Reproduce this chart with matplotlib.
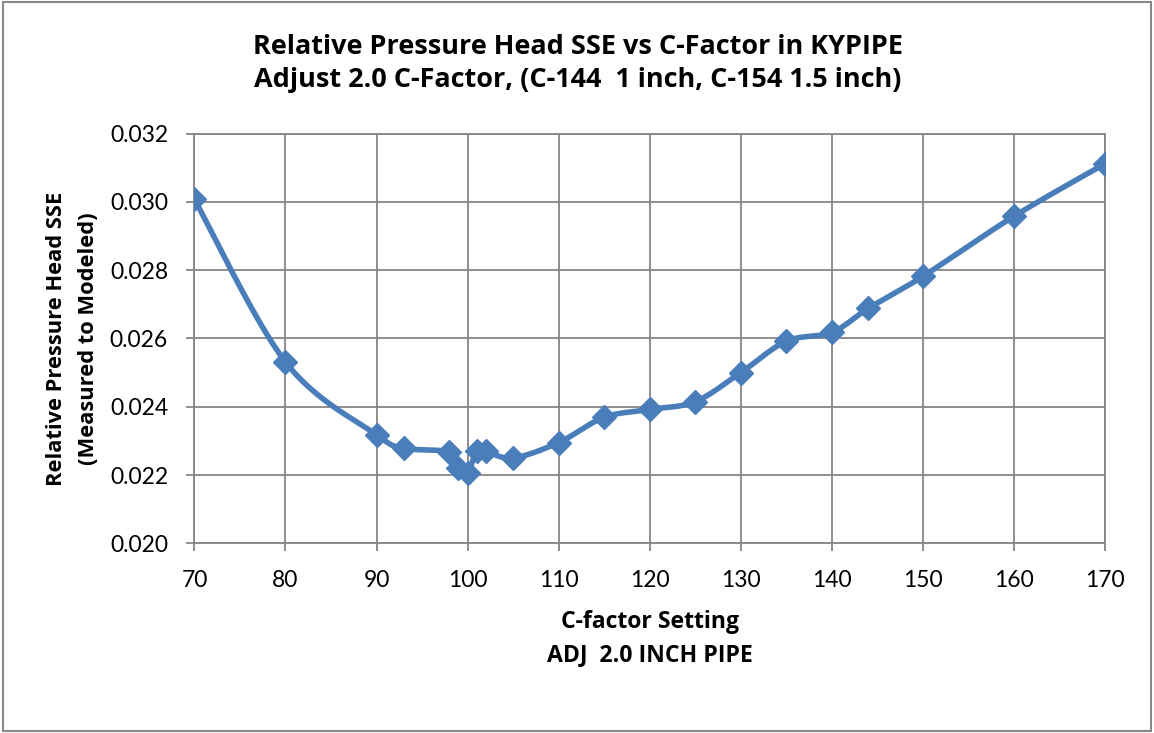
import matplotlib.pyplot as plt
import numpy as np
from matplotlib.patches import Rectangle

# data
c_factor = [70, 80, 90, 93, 98, 99, 100, 101, 102, 105, 110, 115, 120, 125,
            130, 135, 140, 144, 150, 160, 170]
sse = [0.03008, 0.02531, 0.02318, 0.02279, 0.02267, 0.02220, 0.02206,
       0.02269, 0.02269, 0.02250, 0.02295, 0.02369, 0.02392, 0.02415,
       0.02500, 0.02592, 0.02618, 0.02688, 0.02782, 0.02958, 0.03112]
x_ticks = list(range(70, 171, 10))
y_ticks = [0.020, 0.022, 0.024, 0.026, 0.028, 0.030, 0.032]

plt.rcParams['font.family'] = ['Lato', 'DejaVu Sans']
bold_font = ['Open Sans', 'DejaVu Sans']
blue = '#4A7EBB'
grid_c = '#868686'


def smooth(xs, ys, n=30):
    # Excel-like smoothed line: cubic bezier through the points
    p = np.column_stack([xs, ys]).astype(float)
    p = np.vstack([p[0], p, p[-1]])
    out = []
    for i in range(1, len(p) - 2):
        p0, p1, p2, p3 = p[i - 1], p[i], p[i + 1], p[i + 2]
        c1 = p1 + (p2 - p0) / 6
        c2 = p2 - (p3 - p1) / 6
        t = np.linspace(0, 1, n)[:, None]
        seg = ((1 - t) ** 3) * p1 + 3 * ((1 - t) ** 2) * t * c1 \
            + 3 * (1 - t) * t ** 2 * c2 + t ** 3 * p2
        out.append(seg if i == 1 else seg[1:])
    out = np.vstack(out)
    return out[:, 0], out[:, 1]


def fit_text(txt, target, step_px, vertical=False):
    # scale a text so its longest line spans `target` px, lines `step_px` apart
    r = fig.canvas.get_renderer()
    for _ in range(3):
        bb = txt.get_window_extent(r)
        size = bb.height if vertical else bb.width
        txt.set_fontsize(txt.get_fontsize() * target / size)
    probe = fig.text(0, 0, 'lp', fontsize=txt.get_fontsize(),
                     family=txt.get_fontfamily(), fontweight='bold')
    h = probe.get_window_extent(r).height
    probe.remove()
    txt.set_linespacing(step_px / h)


fig = plt.figure(figsize=(11.54, 7.33), dpi=100)
ax = fig.add_axes([0.1685, 0.2588, 0.789, 0.5588])

sx, sy = smooth(c_factor, sse)
ax.plot(sx, sy, color=blue, linewidth=4, solid_capstyle='round', zorder=3)
ax.plot(c_factor, sse, linestyle='none', marker='D', markersize=12,
        color=blue, zorder=4)

ax.set_xlim(70, 170)
ax.set_ylim(0.020, 0.032)
ax.set_xticks(x_ticks)
ax.set_yticks(y_ticks)
ax.set_yticklabels(['%.3f' % v for v in y_ticks])
ax.grid(True, color=grid_c, linewidth=1.3)
ax.set_axisbelow(True)
for s in ax.spines.values():
    s.set_color(grid_c)
    s.set_linewidth(1.3)
ax.tick_params(axis='both', colors=grid_c, labelcolor='black', labelsize=16.5,
               length=6, width=1.3)
ax.tick_params(axis='x', pad=13)
ax.tick_params(axis='y', pad=13)

xl = ax.set_xlabel('C-factor Setting\nADJ  2.0 INCH PIPE', fontsize=16,
                   family=bold_font, fontweight='bold', va='center')
ax.xaxis.set_label_coords(0.5, -0.2324)
yl = ax.set_ylabel('Relative Pressure Head SSE\n(Measured to Modeled)', fontsize=12,
                   family=bold_font, fontweight='bold', va='center')
ax.yaxis.set_label_coords(-0.134, 0.5)

title = fig.text(0.501, 0.913,
                 'Relative Pressure Head SSE vs C-Factor in KYPIPE\n'
                 'Adjust 2.0 C-Factor, (C-144  1 inch, C-154 1.5 inch)',
                 ha='center', va='center', fontsize=19, family=bold_font,
                 fontweight='bold')

fit_text(title, 650, 35)
fit_text(xl, 204, 35)
fit_text(yl, 294, 35, vertical=True)

# chart border
fig.patches.append(Rectangle((0.003, 0.003), 0.994, 0.994, transform=fig.transFigure,
                             fill=False, edgecolor='#888888', linewidth=1.5))

fig.savefig('out.png', dpi=100)
